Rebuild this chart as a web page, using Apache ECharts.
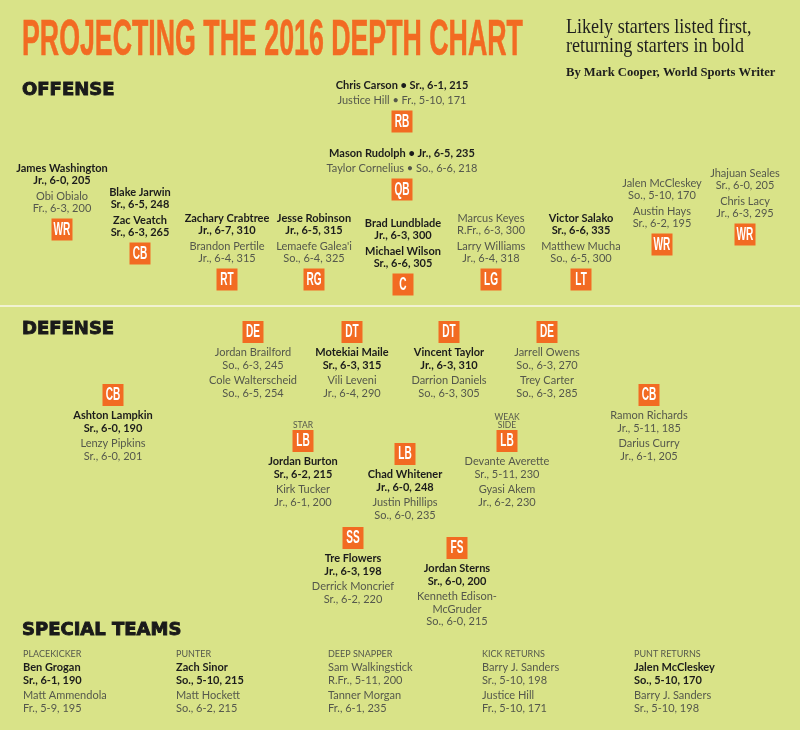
<!DOCTYPE html>
<html><head><meta charset="utf-8">
<script src="https://cdn.jsdelivr.net/npm/echarts@6/dist/echarts.min.js"></script>
<style>html,body{margin:0;padding:0;background:#d9e388}#c{width:800px;height:730px}</style>
</head><body><div id="c"></div><script>
// ---------------- DATA ----------------
const offensePositions = ['RB','QB','WR','CB','RT','RG','C','LG','LT','WR','WR'];
const offensePlayers = [
  [['Chris Carson','Sr., 6-1, 215'],['Justice Hill','Fr., 5-10, 171']],
  [['Mason Rudolph','Jr., 6-5, 235'],['Taylor Cornelius','So., 6-6, 218']],
  [['James Washington','Jr., 6-0, 205'],['Obi Obialo','Fr., 6-3, 200']],
  [['Blake Jarwin','Sr., 6-5, 248'],['Zac Veatch','Sr., 6-3, 265']],
  [['Zachary Crabtree','Jr., 6-7, 310'],['Brandon Pertile','Jr., 6-4, 315']],
  [['Jesse Robinson','Jr., 6-5, 315'],["Lemaefe Galea'i",'So., 6-4, 325']],
  [['Brad Lundblade','Jr., 6-3, 300'],['Michael Wilson','Sr., 6-6, 305']],
  [['Marcus Keyes','R.Fr., 6-3, 300'],['Larry Williams','Jr., 6-4, 318']],
  [['Victor Salako','Sr., 6-6, 335'],['Matthew Mucha','So., 6-5, 300']],
  [['Jalen McCleskey','So., 5-10, 170'],['Austin Hays','Sr., 6-2, 195']],
  [['Jhajuan Seales','Sr., 6-0, 205'],['Chris Lacy','Jr., 6-3, 295']]
];
const offenseBold = [1,1,1,2,1,1,2,0,1,0,0];

const defensePositions = ['DE','DT','DT','DE','CB','CB','LB','LB','LB','SS','FS'];
const defenseTags = ['','','','','','','STAR','','WEAK\nSIDE','',''];
const defensePlayers = [
  [['Jordan Brailford','So., 6-3, 245'],['Cole Walterscheid','So., 6-5, 254']],
  [['Motekiai Maile','Sr., 6-3, 315'],['Vili Leveni','Jr., 6-4, 290']],
  [['Vincent Taylor','Jr., 6-3, 310'],['Darrion Daniels','So., 6-3, 305']],
  [['Jarrell Owens','So., 6-3, 270'],['Trey Carter','So., 6-3, 285']],
  [['Ashton Lampkin','Sr., 6-0, 190'],['Lenzy Pipkins','Sr., 6-0, 201']],
  [['Ramon Richards','Jr., 5-11, 185'],['Darius Curry','Jr., 6-1, 205']],
  [['Jordan Burton','Sr., 6-2, 215'],['Kirk Tucker','Jr., 6-1, 200']],
  [['Chad Whitener','Jr., 6-0, 248'],['Justin Phillips','So., 6-0, 235']],
  [['Devante Averette','Sr., 5-11, 230'],['Gyasi Akem','Jr., 6-2, 230']],
  [['Tre Flowers','Jr., 6-3, 198'],['Derrick Moncrief','Sr., 6-2, 220']],
  [['Jordan Sterns','Sr., 6-0, 200'],['Kenneth Edison-McGruder','So., 6-0, 215']]
];
const defenseBold = [0,1,1,0,1,0,1,1,0,1,1];

const specialRoles = ['PLACEKICKER','PUNTER','DEEP SNAPPER','KICK RETURNS','PUNT RETURNS'];
const specialPlayers = [
  [['Ben Grogan','Sr., 6-1, 190'],['Matt Ammendola','Fr., 5-9, 195']],
  [['Zach Sinor','So., 5-10, 215'],['Matt Hockett','So., 6-2, 215']],
  [['Sam Walkingstick','R.Fr., 5-11, 200'],['Tanner Morgan','Fr., 6-1, 235']],
  [['Barry J. Sanders','Sr., 5-10, 198'],['Justice Hill','Fr., 5-10, 171']],
  [['Jalen McCleskey','So., 5-10, 170'],['Barry J. Sanders','Sr., 5-10, 198']]
];
const specialBold = [1,1,0,0,1];

// ---------------- LAYOUT (field positions, px in an 800x730 field) ----------------
const offenseLayout = [[402,85,1],[402,153,1],[62,168,0],[140,192,0],[227,218,0],[314,218,0],[403,223,0],[491,218,0],[581,218,0],[662,183,0],[745,173,0]];
const defenseLayout = [[253,332],[352,332],[449,332],[547,332],[113,395],[649,395],[303,441],[405,454],[507,441],[353,538],[457,548]];
const specialLayout = [[23,654.5],[176,654.5],[328,654.5],[482,654.5],[634,654.5]];

// ---------------- STYLE ----------------
const BG = '#d9e388', ORANGE = '#f26b22', BOLDC = '#1c1c1c', REGC = '#55584c';
const BODY = 'Lato, "Open Sans", sans-serif';

function textEl(x, y, text, o) {
  const al = o.align || 'center';
  return {type:'text', x:x, y:y, scaleX:o.scaleX||1, silent:true,
    style:{text:text, x:0, y:0, fill:o.fill, fontSize:o.size, fontFamily:o.family||BODY,
      fontWeight:o.weight||'normal', align:al, verticalAlign:'middle', textAlign:al, textVerticalAlign:'middle',
      stroke:o.stroke||null, lineWidth:o.lw||0}};
}
function playerLines(players, nBold, inline) {
  const out = [];
  players.forEach((pl, j) => {
    const bold = j < nBold;
    let lines;
    if (inline) lines = [pl[0] + ' \u2022 ' + pl[1]];
    else {
      const name = pl[0], h = name.indexOf('-');
      const nameLines = (name.length > 18 && h > 0) ? [name.slice(0, h + 1), name.slice(h + 1)] : [name];
      lines = nameLines.concat([pl[1]]);
    }
    lines.forEach((t, k) => out.push({text:t, bold:bold, gap: k === 0 ? (j === 0 ? 0 : 15.5) : 12.5}));
  });
  return out;
}
function lineEls(x, y0, lines, align) {
  const els = []; let y = y0;
  lines.forEach(ln => {
    y += ln.gap;
    els.push(textEl(x, y, ln.text, {fill: ln.bold ? BOLDC : REGC, size: 11, weight: ln.bold ? 'bold' : 'normal', align: align}));
  });
  return {els: els, y: y};
}
function badge(cx, cy, label) {
  return [
    {type:'rect', silent:true, shape:{x:cx - 10.5, y:cy - 11, width:21, height:22}, style:{fill:ORANGE}},
    textEl(cx, cy + 0.5, label, {fill:'#ffffff', size:18, family:'"Liberation Sans", Arial, sans-serif', weight:'bold', scaleX:0.56})
  ];
}

function renderOffense(params, api) {
  const i = params.dataIndex;
  const p = api.coord([api.value(0), api.value(1)]);
  const r = lineEls(p[0], p[1], playerLines(offensePlayers[i], offenseBold[i], api.value(2) === 1), 'center');
  return {type:'group', children: r.els.concat(badge(p[0], r.y + 21, offensePositions[i]))};
}
function renderDefense(params, api) {
  const i = params.dataIndex;
  const p = api.coord([api.value(0), api.value(1)]);
  let children = badge(p[0], p[1], defensePositions[i]);
  if (defenseTags[i]) {
    const tl = defenseTags[i].split('\n');
    tl.forEach((t, k) => children.push(textEl(p[0], p[1] - 15.5 - (tl.length - 1 - k) * 8.5, t, {fill:REGC, size:8.5})));
  }
  const r = lineEls(p[0], p[1] + 20.5, playerLines(defensePlayers[i], defenseBold[i], false), 'center');
  return {type:'group', children: children.concat(r.els)};
}
function renderSpecial(params, api) {
  const i = params.dataIndex;
  const p = api.coord([api.value(0), api.value(1)]);
  const children = [textEl(p[0], p[1], specialRoles[i], {fill:REGC, size:9, align:'left'})];
  const r = lineEls(p[0], p[1] + 13, playerLines(specialPlayers[i], specialBold[i], false), 'left');
  return {type:'group', children: children.concat(r.els)};
}

const HEAD = {fill:'#1a1a1a', size:18, family:'"DejaVu Sans", sans-serif', weight:'bold', align:'left', stroke:'#1a1a1a', lw:0.9};
function gText(x, y, text, o) { const e = textEl(x, y, text, o); e.silent = true; return e; }

const chart = echarts.init(document.getElementById('c'), null, {renderer:'canvas'});
chart.setOption({
  backgroundColor: BG,
  animation: false,
  grid: {left:0, right:0, top:0, bottom:0},
  xAxis: {type:'value', min:0, max:800, show:false},
  yAxis: {type:'value', min:0, max:730, inverse:true, show:false},
  graphic: [
    {type:'line', silent:true, shape:{x1:0, y1:306, x2:800, y2:306}, style:{stroke:'#f1f2d2', lineWidth:2}},
    gText(22, 41, 'PROJECTING THE 2016 DEPTH CHART', {fill:ORANGE, size:50, family:'"Liberation Sans", Arial, sans-serif', weight:'bold', align:'left', scaleX:0.535, stroke:ORANGE, lw:0.6}),
    gText(566, 27, 'Likely starters listed first,', {fill:'#1e1e1e', size:21, family:'"Liberation Serif", serif', align:'left', scaleX:0.86}),
    gText(566, 46, 'returning starters in bold', {fill:'#1e1e1e', size:21, family:'"Liberation Serif", serif', align:'left', scaleX:0.86}),
    gText(566, 73, 'By Mark Cooper, World Sports Writer', {fill:'#1e1e1e', size:13, family:'"Liberation Serif", serif', weight:'bold', align:'left', scaleX:0.97}),
    gText(22, 90, 'OFFENSE', HEAD),
    gText(22, 329, 'DEFENSE', HEAD),
    gText(22, 630, 'SPECIAL TEAMS', HEAD)
  ],
  series: [
    {type:'custom', name:'Offense', silent:true, clip:false, renderItem:renderOffense,
      data: offenseLayout.map(d => [d[0], d[1], d[2]])},
    {type:'custom', name:'Defense', silent:true, clip:false, renderItem:renderDefense,
      data: defenseLayout.map(d => [d[0], d[1]])},
    {type:'custom', name:'Special teams', silent:true, clip:false, renderItem:renderSpecial,
      data: specialLayout.map(d => [d[0], d[1]])}
  ]
});
</script></body></html>
